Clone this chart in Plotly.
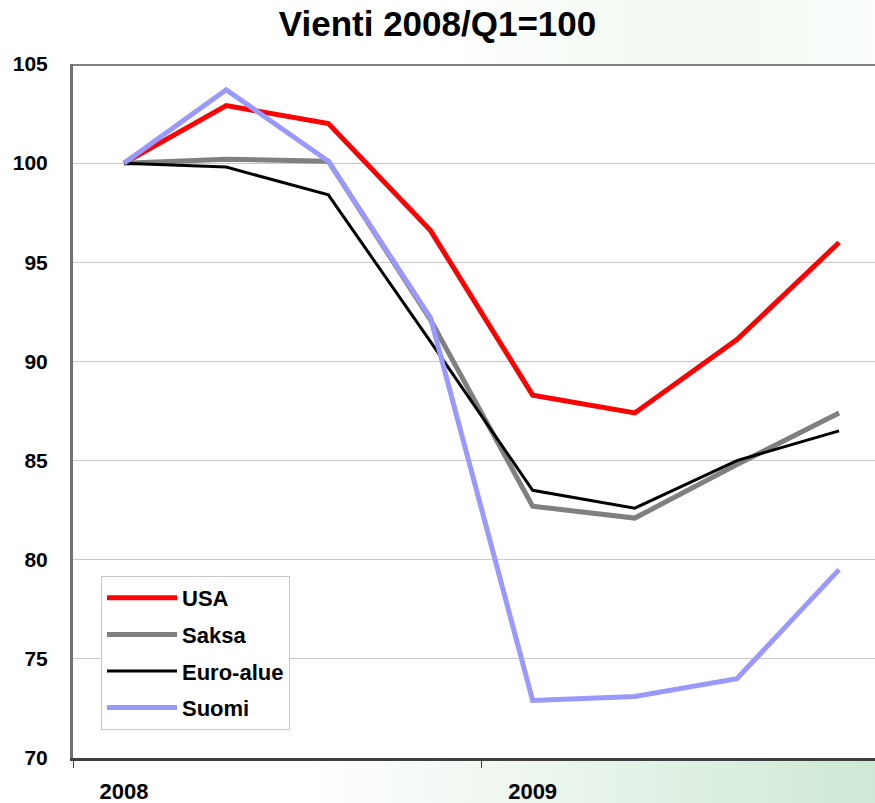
import base64
import plotly.graph_objects as go

# ---- data ----
quarters = ["2008Q1", "2008Q2", "2008Q3", "2008Q4", "2009Q1", "2009Q2", "2009Q3", "2009Q4"]
usa = [100.0, 102.9, 102.0, 96.6, 88.3, 87.4, 91.1, 96.0]
saksa = [100.0, 100.2, 100.1, 92.1, 82.7, 82.1, 84.8, 87.4]
euro_alue = [100.0, 99.8, 98.4, 91.0, 83.5, 82.6, 85.0, 86.5]
suomi = [100.0, 103.7, 100.1, 92.2, 72.9, 73.1, 74.0, 79.5]
year_labels = ["2008", "2009"]
year_positions = [0, 4]
year_boundaries = [-0.5, 3.5]
y_ticks = [70, 75, 80, 85, 90, 95, 100, 105]

x = list(range(len(quarters)))

series = [
    ("USA", usa, "#ff0000", 5),
    ("Saksa", saksa, "#808080", 5),
    ("Euro-alue", euro_alue, "#000000", 3),
    ("Suomi", suomi, "#9999ff", 5),
]

fig = go.Figure()
for i, (name, vals, color, w) in enumerate(series):
    fig.add_trace(go.Scatter(
        x=x, y=vals, name=f"<b>{name}</b>", mode="lines",
        line=dict(color=color, width=w),
        legendgroup=f"g{i}",
        hovertemplate="%{y}<extra>" + name + "</extra>",
    ))

# background (soft green gradient strips outside the plot area)
W, H = 875, 803
svg = f'''<svg xmlns="http://www.w3.org/2000/svg" width="{W}" height="{H}" viewBox="0 0 {W} {H}" preserveAspectRatio="none">
<defs>
<linearGradient id="gb" x1="0" y1="0" x2="1" y2="0">
<stop offset="0" stop-color="#ffffff"/><stop offset="0.35" stop-color="#ffffff"/>
<stop offset="0.7" stop-color="#e6f3e8"/><stop offset="1" stop-color="#cde8d4"/>
</linearGradient>
<linearGradient id="gt" x1="0" y1="0" x2="1" y2="0">
<stop offset="0" stop-color="#ffffff"/><stop offset="0.5" stop-color="#ffffff"/>
<stop offset="0.8" stop-color="#f1f9f0"/><stop offset="1" stop-color="#fbfefc"/>
</linearGradient>
</defs>
<rect x="0" y="0" width="{W}" height="{H}" fill="#ffffff"/>
<rect x="0" y="0" width="{W}" height="64" fill="url(#gt)"/>
<rect x="0" y="760" width="{W}" height="{H-760}" fill="url(#gb)"/>
</svg>'''
src = "data:image/svg+xml;base64," + base64.b64encode(svg.encode()).decode()

ml, mr, mt, mb = 73, 0, 64, 45
pw, ph = W - ml - mr, H - mt - mb

fig.add_layout_image(dict(
    source=src, xref="paper", yref="paper",
    x=-ml / pw, y=1 + mt / ph, sizex=W / pw, sizey=H / ph,
    xanchor="left", yanchor="top", sizing="stretch", layer="below",
))

# top border of plot area
fig.add_shape(type="line", xref="paper", yref="y", x0=0, x1=1, y0=105, y1=105,
              line=dict(color="#808080", width=4), layer="above")

cat_w = 102.14
fig.update_layout(
    width=W, height=H,
    margin=dict(l=ml, r=mr, t=mt, b=mb, pad=0, autoexpand=False),
    paper_bgcolor="rgba(0,0,0,0)",
    plot_bgcolor="#ffffff",
    font=dict(family="Liberation Sans, Arial, sans-serif", color="#000000"),
    title=dict(text="<b>Vienti 2008/Q1=100</b>", x=0.5, xref="container",
               y=1 - 24 / H, yref="container", yanchor="middle", xanchor="center",
               font=dict(size=35, family="Liberation Sans, Arial, sans-serif")),
    showlegend=True,
    legend=dict(
        x=(101 - ml) / pw, y=(758 - 576) / ph, xanchor="left", yanchor="top",
        bgcolor="#ffffff", bordercolor="#c8c8c8", borderwidth=1,
        font=dict(size=22, family="Liberation Sans, Arial, sans-serif"),
        tracegroupgap=5, itemwidth=70,
    ),
    xaxis=dict(
        range=[-0.5, -0.5 + pw / cat_w], automargin=False,
        tickmode="array", tickvals=year_positions,
        ticktext=[f"<b>{t}</b>" for t in year_labels],
        ticks="", showgrid=False, zeroline=False,
        showline=True, linecolor="#404040", linewidth=3,
        tickfont=dict(size=22), ticklabelstandoff=12,
        minor=dict(tickmode="array", tickvals=year_boundaries, ticks="outside",
                   ticklen=7, tickcolor="#404040", tickwidth=1, showgrid=False),
        fixedrange=True,
    ),
    yaxis=dict(
        range=[70, 105], automargin=False,
        tickmode="array", tickvals=y_ticks,
        ticktext=[f"<b>{t}</b>" for t in y_ticks],
        ticks="", showgrid=True, gridcolor="#c8c8c8", gridwidth=1,
        zeroline=False, showline=True, linecolor="#707070", linewidth=3,
        tickfont=dict(size=21), ticklabelstandoff=18,
        fixedrange=True,
    ),
)

fig.write_html(
    "out.html",
    config={"displayModeBar": False},
    post_script="document.body.style.margin='0';document.body.style.overflow='hidden';",
)
